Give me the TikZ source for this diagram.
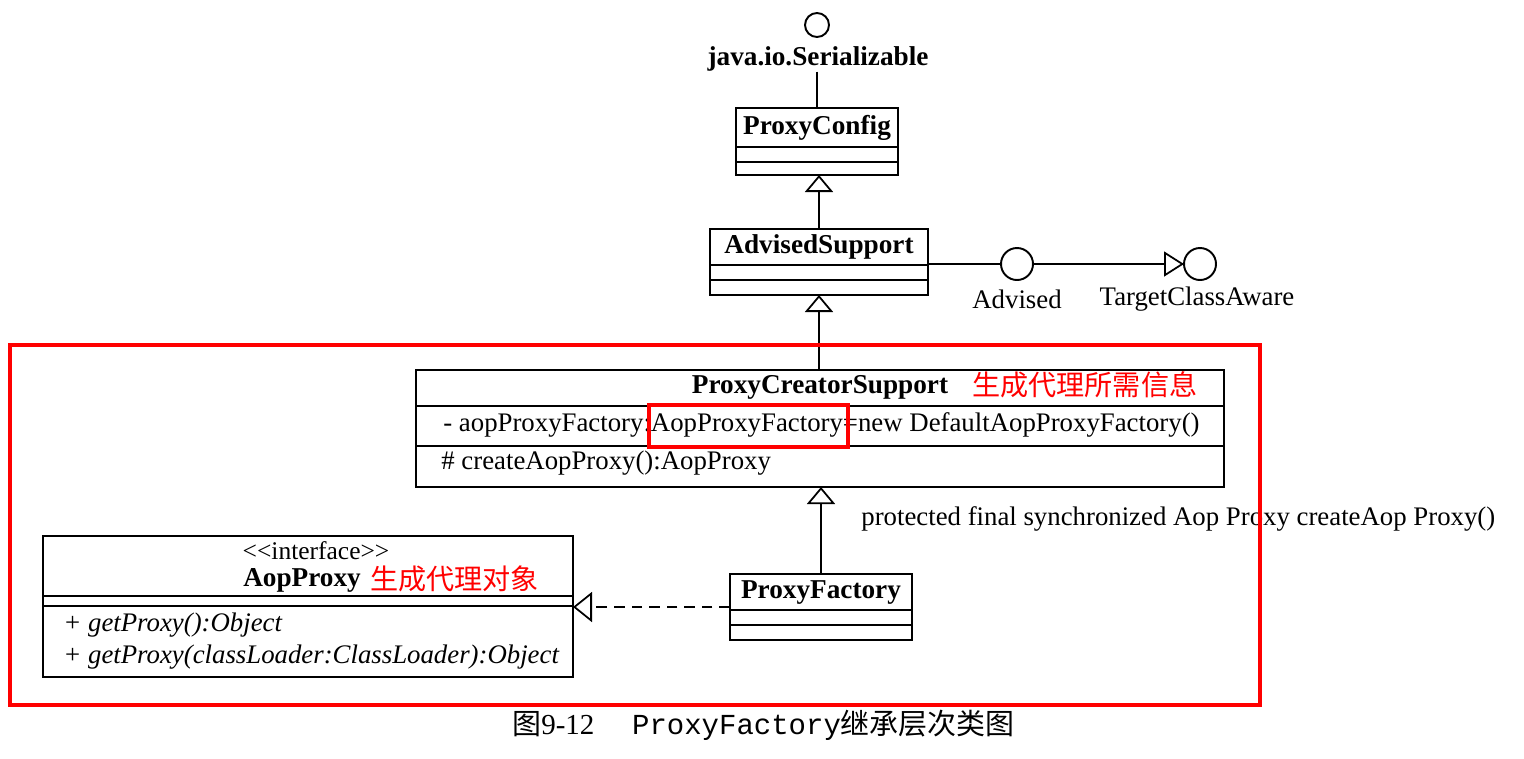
\documentclass[tikz,border=0pt]{standalone}
\usepackage{fontspec}
\setmainfont{Liberation Serif}
\newfontfamily\cjk{Noto Sans CJK SC}
\newfontfamily\monof{Liberation Mono}
\usetikzlibrary{arrows.meta}
\newcommand\pxu{0.02cm}
\begin{document}
\begin{tikzpicture}[x=0.02cm,y=-0.02cm,
  cls/.style={draw, line width=1.1pt, inner sep=0pt, outer sep=0pt},
  txt/.style={inner sep=0pt, font=\fontsize{15.25}{18}\selectfont},
  btxt/.style={inner sep=0pt, font=\fontsize{15.5}{18}\selectfont\bfseries},
  itxt/.style={inner sep=0pt, font=\fontsize{15.25}{18}\selectfont\itshape},
  redtxt/.style={inner sep=0pt, text=red, font=\cjk\fontsize{16}{18}\selectfont},
  iface/.style={circle, draw, line width=1.1pt, inner sep=0pt, outer sep=0pt},
  gen/.style={line width=1pt, -{Triangle[open, width=0.56cm, length=0.34cm, fill=white]}},
  real/.style={line width=1pt, dashed, dash pattern=on 6pt off 4pt, -{Triangle[open, width=0.6cm, length=0.38cm, fill=white]}},
  lolli/.style={line width=1pt, -{Triangle[open, width=0.5cm, length=0.4cm, fill=white]}},
  redbox/.style={draw=red, line width=2pt, inner sep=0pt, outer sep=0pt}
]
\useasboundingbox (0,0) rectangle (1524,758);
\fill[white] (0,0) rectangle (1524,758);

% Serializable
\node[iface, minimum size={24*\pxu}] (ser) at (817,25) {};
\node[btxt] (serlbl) at (818,59) {java.io.Serializable};

% ProxyConfig
\node[cls, minimum width={162*\pxu}, minimum height={67*\pxu}] (pc) at (817,141.5) {};
\draw[line width=1pt] (pc.west |- 0,147) -- (pc.east |- 0,147);
\draw[line width=1pt] (pc.west |- 0,162) -- (pc.east |- 0,162);
\node[btxt] (pcname) at (817,128) {ProxyConfig};

% AdvisedSupport
\node[cls, minimum width={218*\pxu}, minimum height={66*\pxu}] (as) at (819,262) {};
\draw[line width=1pt] (as.west |- 0,265) -- (as.east |- 0,265);
\draw[line width=1pt] (as.west |- 0,280) -- (as.east |- 0,280);
\node[btxt] (asname) at (819,247) {AdvisedSupport};

% interfaces
\node[iface, minimum size={32*\pxu}] (adv) at (1017,264) {};
\node[txt] (advlbl) at (1017,299) {Advised};
\node[iface, minimum size={32*\pxu}] (tca) at (1200,264) {};
\node[txt] (tcalbl) at (1197,299) {TargetClassAware};

% ProxyCreatorSupport
\node[cls, minimum width={808*\pxu}, minimum height={117*\pxu}] (pcs) at (820,428.5) {};
\draw[line width=1pt] (pcs.west |- 0,406) -- (pcs.east |- 0,406);
\draw[line width=1pt] (pcs.west |- 0,446) -- (pcs.east |- 0,446);
\node[btxt] (pcsname) at (820,387) {ProxyCreatorSupport};
\node[redtxt, anchor=west] (pcsnote) at (972,385) {生成代理所需信息};
\node[txt, anchor=west] (pcsattr) at (443,425) {- aopProxyFactory:AopProxyFactory=new DefaultAopProxyFactory()};
\node[txt, anchor=west] (pcsop) at (441,463) {\# createAopProxy():AopProxy};
\node[redbox, minimum width={199*\pxu}, minimum height={42*\pxu}] (hl) at (748.5,426) {};

% ProxyFactory
\node[cls, minimum width={182*\pxu}, minimum height={66*\pxu}] (pf) at (821,607) {};
\draw[line width=1pt] (pf.west |- 0,610) -- (pf.east |- 0,610);
\draw[line width=1pt] (pf.west |- 0,625) -- (pf.east |- 0,625);
\node[btxt] (pfname) at (821,593) {ProxyFactory};
\node[txt, anchor=west] (opnote) at (861,519) {protected final synchronized Aop Proxy createAop Proxy()};

% AopProxy
\node[cls, minimum width={530*\pxu}, minimum height={141*\pxu}] (ap) at (308,606.5) {};
\draw[line width=1pt] (ap.west |- 0,596) -- (ap.east |- 0,596);
\draw[line width=1pt] (ap.west |- 0,606) -- (ap.east |- 0,606);
\node[inner sep=0pt, font=\fontsize{14.5}{16}\selectfont] (apster) at (316,551) {<{}<interface>{}>};
\node[btxt] (apname) at (302,580) {AopProxy};
\node[redtxt, anchor=west] (apnote) at (370,579) {生成代理对象};
\node[itxt, anchor=west] (apop1) at (63,625) {+ getProxy():Object};
\node[itxt, anchor=west] (apop2) at (63,657) {+ getProxy(classLoader:ClassLoader):Object};

% connectors
\draw[line width=1pt] (serlbl.south -| pc.north) -- (pc.north);
\draw[gen] (as.north) -- (as.north |- pc.south);
\draw[line width=1pt] (adv.west -| as.east) -- (adv.west);
\draw[lolli] (adv.east) -- (tca.west);
\draw[gen] (pcs.north -| as.south) -- (as.south);
\draw[gen] (pf.north) -- (pf.north |- pcs.south);
\draw[real] (pf.west) -- (pf.west -| ap.east);

% big red frame
\node[redbox, minimum width={1250*\pxu}, minimum height={360*\pxu}] (frame) at (635,525) {};

% caption
\node[inner sep=0pt, anchor=west, font=\fontsize{16.5}{18}\selectfont] (cap) at (512,725)
  {{\cjk 图}9-12\hspace{1.3em}{\monof\fontsize{16.5}{18}\selectfont ProxyFactory}{\cjk 继承层次类图}};
\end{tikzpicture}
\end{document}
